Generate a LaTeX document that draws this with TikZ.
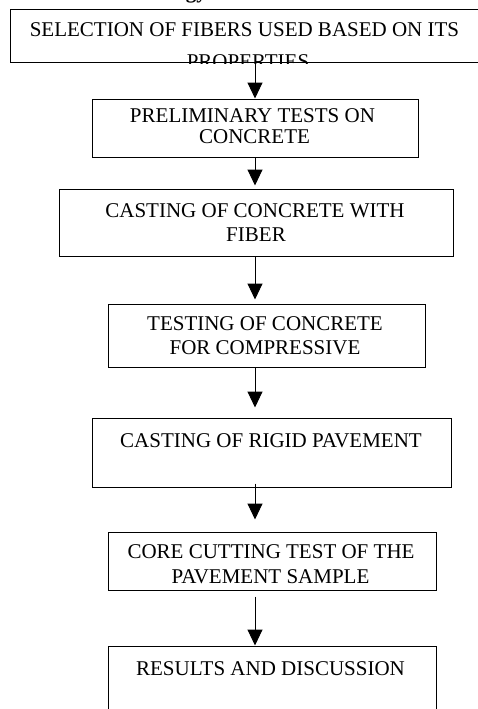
\documentclass[tikz,border=0pt]{standalone}
\usepackage{fontspec}
\setmainfont{Liberation Serif}
\usetikzlibrary{arrows.meta,calc}
\tikzset{
  box/.style={draw=black, line width=1pt, rectangle, inner sep=0pt},
  lbl/.style={anchor=base, inner sep=0pt, font=\fontsize{21}{23}\selectfont},
  arr/.style={draw=black, line width=1pt, -{Triangle[length=16pt,width=15pt]}}
}
\begin{document}
\begin{tikzpicture}[x=1pt,y=-1pt]
\useasboundingbox (0,0) rectangle (478,709);
\clip (0,0) rectangle (478,709);
\coordinate (ax) at (255,0);
% cut-off heading
\node[anchor=base east, inner sep=0pt, font=\fontsize{21}{23}\selectfont\bfseries] (head) at (207,-1) {Methodology};
% boxes
\node[box, minimum width=490, minimum height=53] (b1) at (255,36.5) {};
\node[box, minimum width=326, minimum height=58] (b2) at (255,128) {};
\node[box, minimum width=394, minimum height=67] (b3) at (256,222.5) {};
\node[box, minimum width=317, minimum height=63] (b4) at (266.5,335.5) {};
\node[box, minimum width=359, minimum height=69] (b5) at (271.5,452.5) {};
\node[box, minimum width=328, minimum height=58] (b6) at (272,561) {};
\node[box, minimum width=328, minimum height=114] (b7) at (272,703) {};
% texts
\node[lbl] (t1a) at (244.5,37) {SELECTION OF FIBERS USED BASED ON ITS};
\begin{scope}
\clip (b1.north west) rectangle (b1.south east);
\node[lbl] (t1b) at (248,69) {PROPERTIES};
\end{scope}
\node[lbl] (t2a) at (252.5,122) {PRELIMINARY TESTS ON};
\node[lbl] (t2b) at (254.5,143) {CONCRETE};
\node[lbl] (t3a) at (255,217) {CASTING OF CONCRETE WITH};
\node[lbl] (t3b) at (256,241) {FIBER};
\node[lbl] (t4a) at (265,330) {TESTING OF CONCRETE};
\node[lbl] (t4b) at (265,354) {FOR COMPRESSIVE};
\node[lbl] (t5) at (271,447) {CASTING OF RIGID PAVEMENT};
\node[lbl] (t6a) at (271,558) {CORE CUTTING TEST OF THE};
\node[lbl] (t6b) at (270.5,583) {PAVEMENT SAMPLE};
\node[lbl] (t7) at (270.5,675) {RESULTS AND DISCUSSION};
% arrows
\draw[arr] ($(b1.south -| ax)+(0,-5)$) -- (b2.north -| ax);
\draw[arr] (b2.south -| ax) -- ($(b3.north -| ax)+(0,-3)$);
\draw[arr] (b3.south -| ax) -- ($(b4.north -| ax)+(0,-4)$);
\draw[arr] (b4.south -| ax) -- ($(b5.north -| ax)+(0,-10)$);
\draw[arr] ($(b5.south -| ax)+(0,-4)$) -- ($(b6.north -| ax)+(0,-12)$);
\draw[arr] ($(b6.south -| ax)+(0,6)$) -- (b7.north -| ax);
\end{tikzpicture}
\end{document}
